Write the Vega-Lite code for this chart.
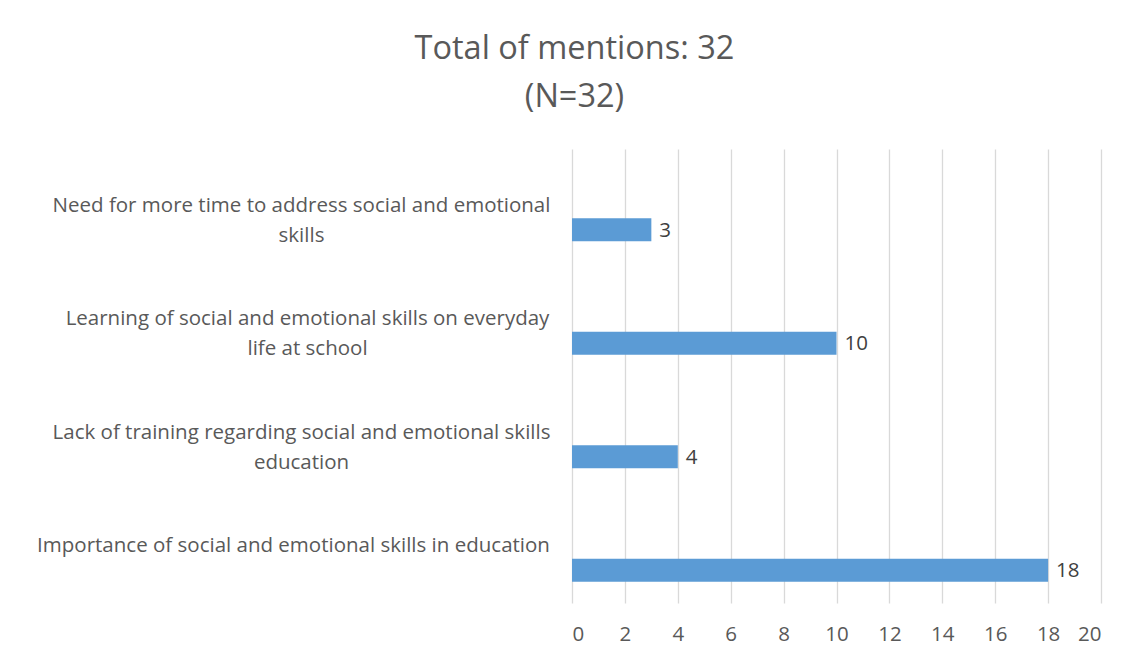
{
  "$schema": "https://vega.github.io/schema/vega-lite/v6.json",
  "autosize": {"type": "none"},
  "padding": {"left": 572, "top": 149, "right": 40, "bottom": 59},
  "width": 529,
  "height": 454,
  "background": "white",
  "title": {
    "text": ["Total of mentions: 32", "(N=32)"],
    "anchor": "middle",
    "frame": "group",
    "dx": -262,
    "offset": 36,
    "font": "Open Sans",
    "fontSize": 32.5,
    "fontWeight": "normal",
    "color": "#595959",
    "lineHeight": 48
  },
  "data": {
    "values": [
      {"category": "Need for more time to address social and emotional skills", "mentions": 3},
      {"category": "Learning of social and emotional skills on everyday life at school", "mentions": 10},
      {"category": "Lack of training regarding social and emotional skills education", "mentions": 4},
      {"category": "Importance of social and emotional skills in education", "mentions": 18}
    ]
  },
  "encoding": {
    "y": {
      "field": "category",
      "type": "nominal",
      "sort": null,
      "scale": {"paddingInner": 0, "paddingOuter": 0},
      "axis": {
        "title": null,
        "domain": false,
        "ticks": false,
        "grid": false,
        "labelFont": "Open Sans",
        "labelFontSize": 20.5,
        "labelColor": "#595959",
        "labelLimit": 700,
        "labelAlign": "center",
        "labelBaseline": "middle",
        "labelLineHeight": 30,
        "labelPadding": {
          "condition": [
            {"test": "datum.value == 'Need for more time to address social and emotional skills'", "value": 271},
            {"test": "datum.value == 'Learning of social and emotional skills on everyday life at school'", "value": 265},
            {"test": "datum.value == 'Lack of training regarding social and emotional skills education'", "value": 271}
          ],
          "value": 279
        },
        "labelExpr": "datum.value == 'Need for more time to address social and emotional skills' ? ['Need for more time to address social and emotional', 'skills'] : datum.value == 'Learning of social and emotional skills on everyday life at school' ? ['Learning of social and emotional skills on everyday', 'life at school'] : datum.value == 'Lack of training regarding social and emotional skills education' ? ['Lack of training regarding social and emotional skills', 'education'] : datum.value"
      }
    },
    "x": {
      "field": "mentions",
      "type": "quantitative",
      "scale": {"domain": [0, 20], "nice": false},
      "axis": {
        "title": null,
        "values": [0, 2, 4, 6, 8, 10, 12, 14, 16, 18, 20],
        "domain": false,
        "ticks": false,
        "grid": true,
        "gridColor": "#d9d9d9",
        "gridWidth": 1.3,
        "labelFont": "Open Sans",
        "labelFontSize": 20.5,
        "labelColor": "#595959",
        "labelPadding": 31,
        "labelBaseline": "middle"
      }
    }
  },
  "layer": [
    {
      "mark": {"type": "bar", "color": "#5b9bd5", "height": 23, "yOffset": 24}
    },
    {
      "mark": {"type": "text", "align": "left", "baseline": "middle", "dx": 8, "yOffset": 25, "font": "Open Sans", "fontSize": 20.5, "color": "#404040"},
      "encoding": {"text": {"field": "mentions", "type": "quantitative"}}
    }
  ],
  "config": {"view": {"stroke": null}}
}
